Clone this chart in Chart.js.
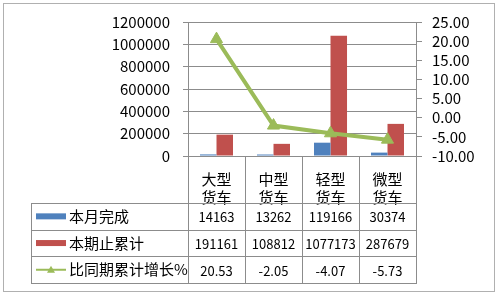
<!DOCTYPE html>
<html>
<head>
<meta charset="utf-8">
<script src="https://cdn.jsdelivr.net/npm/chart.js@4"></script>
<style>
  html, body { margin: 0; padding: 0; background: #fff; }
  #wrap { width: 500px; height: 296px; }
</style>
</head>
<body>
<div id="wrap"><canvas id="c" width="500" height="296"></canvas></div>
<script>
// Truck sales by type: monthly output, cumulative total, year-on-year growth
const categories = [['大型', '货车'], ['中型', '货车'], ['轻型', '货车'], ['微型', '货车']];
const monthly = [14163, 13262, 119166, 30374];
const cumulative = [191161, 108812, 1077173, 287679];
const growth = [20.53, -2.05, -4.07, -5.73];
const seriesNames = ['本月完成', '本期止累计', '比同期累计增长%'];
const leftTicks = [0, 200000, 400000, 600000, 800000, 1000000, 1200000];
const rightTicks = [-10, -5, 0, 5, 10, 15, 20, 25];

const BLUE = '#4F81BD', RED = '#C0504D', GREEN = '#9BBB59';
const GRID = '#8c8c8c';
const FONT = '"Noto Sans CJK SC", "Noto Sans", sans-serif';

// Data table under the plot (legend keys, names and values per category)
const dataTable = {
  id: 'dataTable',
  afterDraw(chart) {
    const ctx = chart.ctx;
    const x = chart.scales.x;
    const area = chart.chartArea;
    const n = categories.length;
    const colW = (area.right - area.left) / n;
    const headerBottom = area.bottom + 47;
    const rowH = 26.7;
    const tableLeft = 31;
    const rows = [monthly, cumulative, growth];

    ctx.save();
    ctx.strokeStyle = GRID;
    ctx.lineWidth = 1;
    ctx.beginPath();
    // column separators through header and body
    for (let i = 0; i <= n; i++) {
      const px = Math.round(area.left + i * colW) + 0.5;
      ctx.moveTo(px, area.bottom);
      ctx.lineTo(px, headerBottom + rowH * rows.length);
    }
    // left edge of the body
    ctx.moveTo(tableLeft + 0.5, headerBottom);
    ctx.lineTo(tableLeft + 0.5, headerBottom + rowH * rows.length);
    // horizontal row lines
    for (let r = 0; r <= rows.length; r++) {
      const py = Math.round(headerBottom + r * rowH) + 0.5;
      ctx.moveTo(tableLeft, py);
      ctx.lineTo(area.right + 1, py);
    }
    ctx.stroke();

    rows.forEach((vals, r) => {
      const cy = headerBottom + rowH * (r + 0.5);
      // legend key
      if (r === 0 || r === 1) {
        ctx.fillStyle = r === 0 ? BLUE : RED;
        ctx.fillRect(36, cy - 3, 30, 6);
      } else {
        ctx.strokeStyle = GREEN;
        ctx.lineWidth = 2;
        ctx.beginPath();
        ctx.moveTo(36, cy);
        ctx.lineTo(66, cy);
        ctx.stroke();
        ctx.fillStyle = GREEN;
        ctx.beginPath();
        ctx.moveTo(51, cy - 4);
        ctx.lineTo(55, cy + 3);
        ctx.lineTo(47, cy + 3);
        ctx.closePath();
        ctx.fill();
      }
      ctx.fillStyle = '#000';
      ctx.textBaseline = 'middle';
      ctx.textAlign = 'left';
      ctx.font = '15px ' + FONT;
      ctx.fillText(seriesNames[r], 69, cy);
      ctx.font = '13px ' + FONT;
      ctx.textAlign = 'center';
      vals.forEach((v, i) => {
        const label = r === 2 ? v.toFixed(2) : String(v);
        ctx.fillText(label, x.getPixelForValue(i), cy + 1);
      });
    });

    // outer frame
    ctx.strokeStyle = '#b0b0b0';
    ctx.lineWidth = 1;
    ctx.strokeRect(3.5, 3.5, 491, 288);
    ctx.restore();
  }
};

new Chart(document.getElementById('c'), {
  type: 'bar',
  data: {
    labels: categories,
    datasets: [
      {
        type: 'line',
        label: seriesNames[2],
        data: growth,
        yAxisID: 'yR',
        borderColor: GREEN,
        backgroundColor: GREEN,
        borderWidth: 4,
        pointStyle: 'triangle',
        pointRadius: 7,
        pointBorderWidth: 1,
        tension: 0,
        order: 0
      },
      {
        label: seriesNames[0],
        data: monthly,
        yAxisID: 'y',
        backgroundColor: BLUE,
        categoryPercentage: 0.58,
        barPercentage: 1,
        order: 1
      },
      {
        label: seriesNames[1],
        data: cumulative,
        yAxisID: 'y',
        backgroundColor: RED,
        categoryPercentage: 0.58,
        barPercentage: 1,
        order: 1
      }
    ]
  },
  options: {
    responsive: false,
    animation: false,
    layout: { padding: { top: 21, left: 0, right: 0, bottom: 0 } },
    plugins: { legend: { display: false }, tooltip: { enabled: false } },
    scales: {
      x: {
        offset: true,
        grid: { display: false },
        border: { display: false },
        ticks: {
          color: '#000',
          font: { family: FONT, size: 15, lineHeight: 1.2 },
          padding: 6,
          maxRotation: 0
        },
        afterFit(s) { s.height = 140; }
      },
      y: {
        position: 'left',
        min: 0,
        max: 1200000,
        afterBuildTicks(s) { s.ticks = leftTicks.map(v => ({ value: v })); },
        grid: { color: GRID, tickLength: 5 },
        border: { display: true, color: GRID },
        ticks: {
          color: '#000',
          font: { family: FONT, size: 15 },
          padding: 13,
          autoSkip: false,
          callback: v => String(v)
        },
        afterFit(s) { s.width = 188; }
      },
      yR: {
        position: 'right',
        min: -10,
        max: 25,
        afterBuildTicks(s) { s.ticks = rightTicks.map(v => ({ value: v })); },
        grid: { drawOnChartArea: false, color: GRID, tickLength: 6 },
        border: { display: true, color: GRID },
        ticks: {
          color: '#000',
          font: { family: FONT, size: 15 },
          padding: 10,
          autoSkip: false,
          callback: v => Number(v).toFixed(2)
        },
        afterFit(s) { s.width = 84; }
      }
    }
  },
  plugins: [dataTable]
});
</script>
</body>
</html>
